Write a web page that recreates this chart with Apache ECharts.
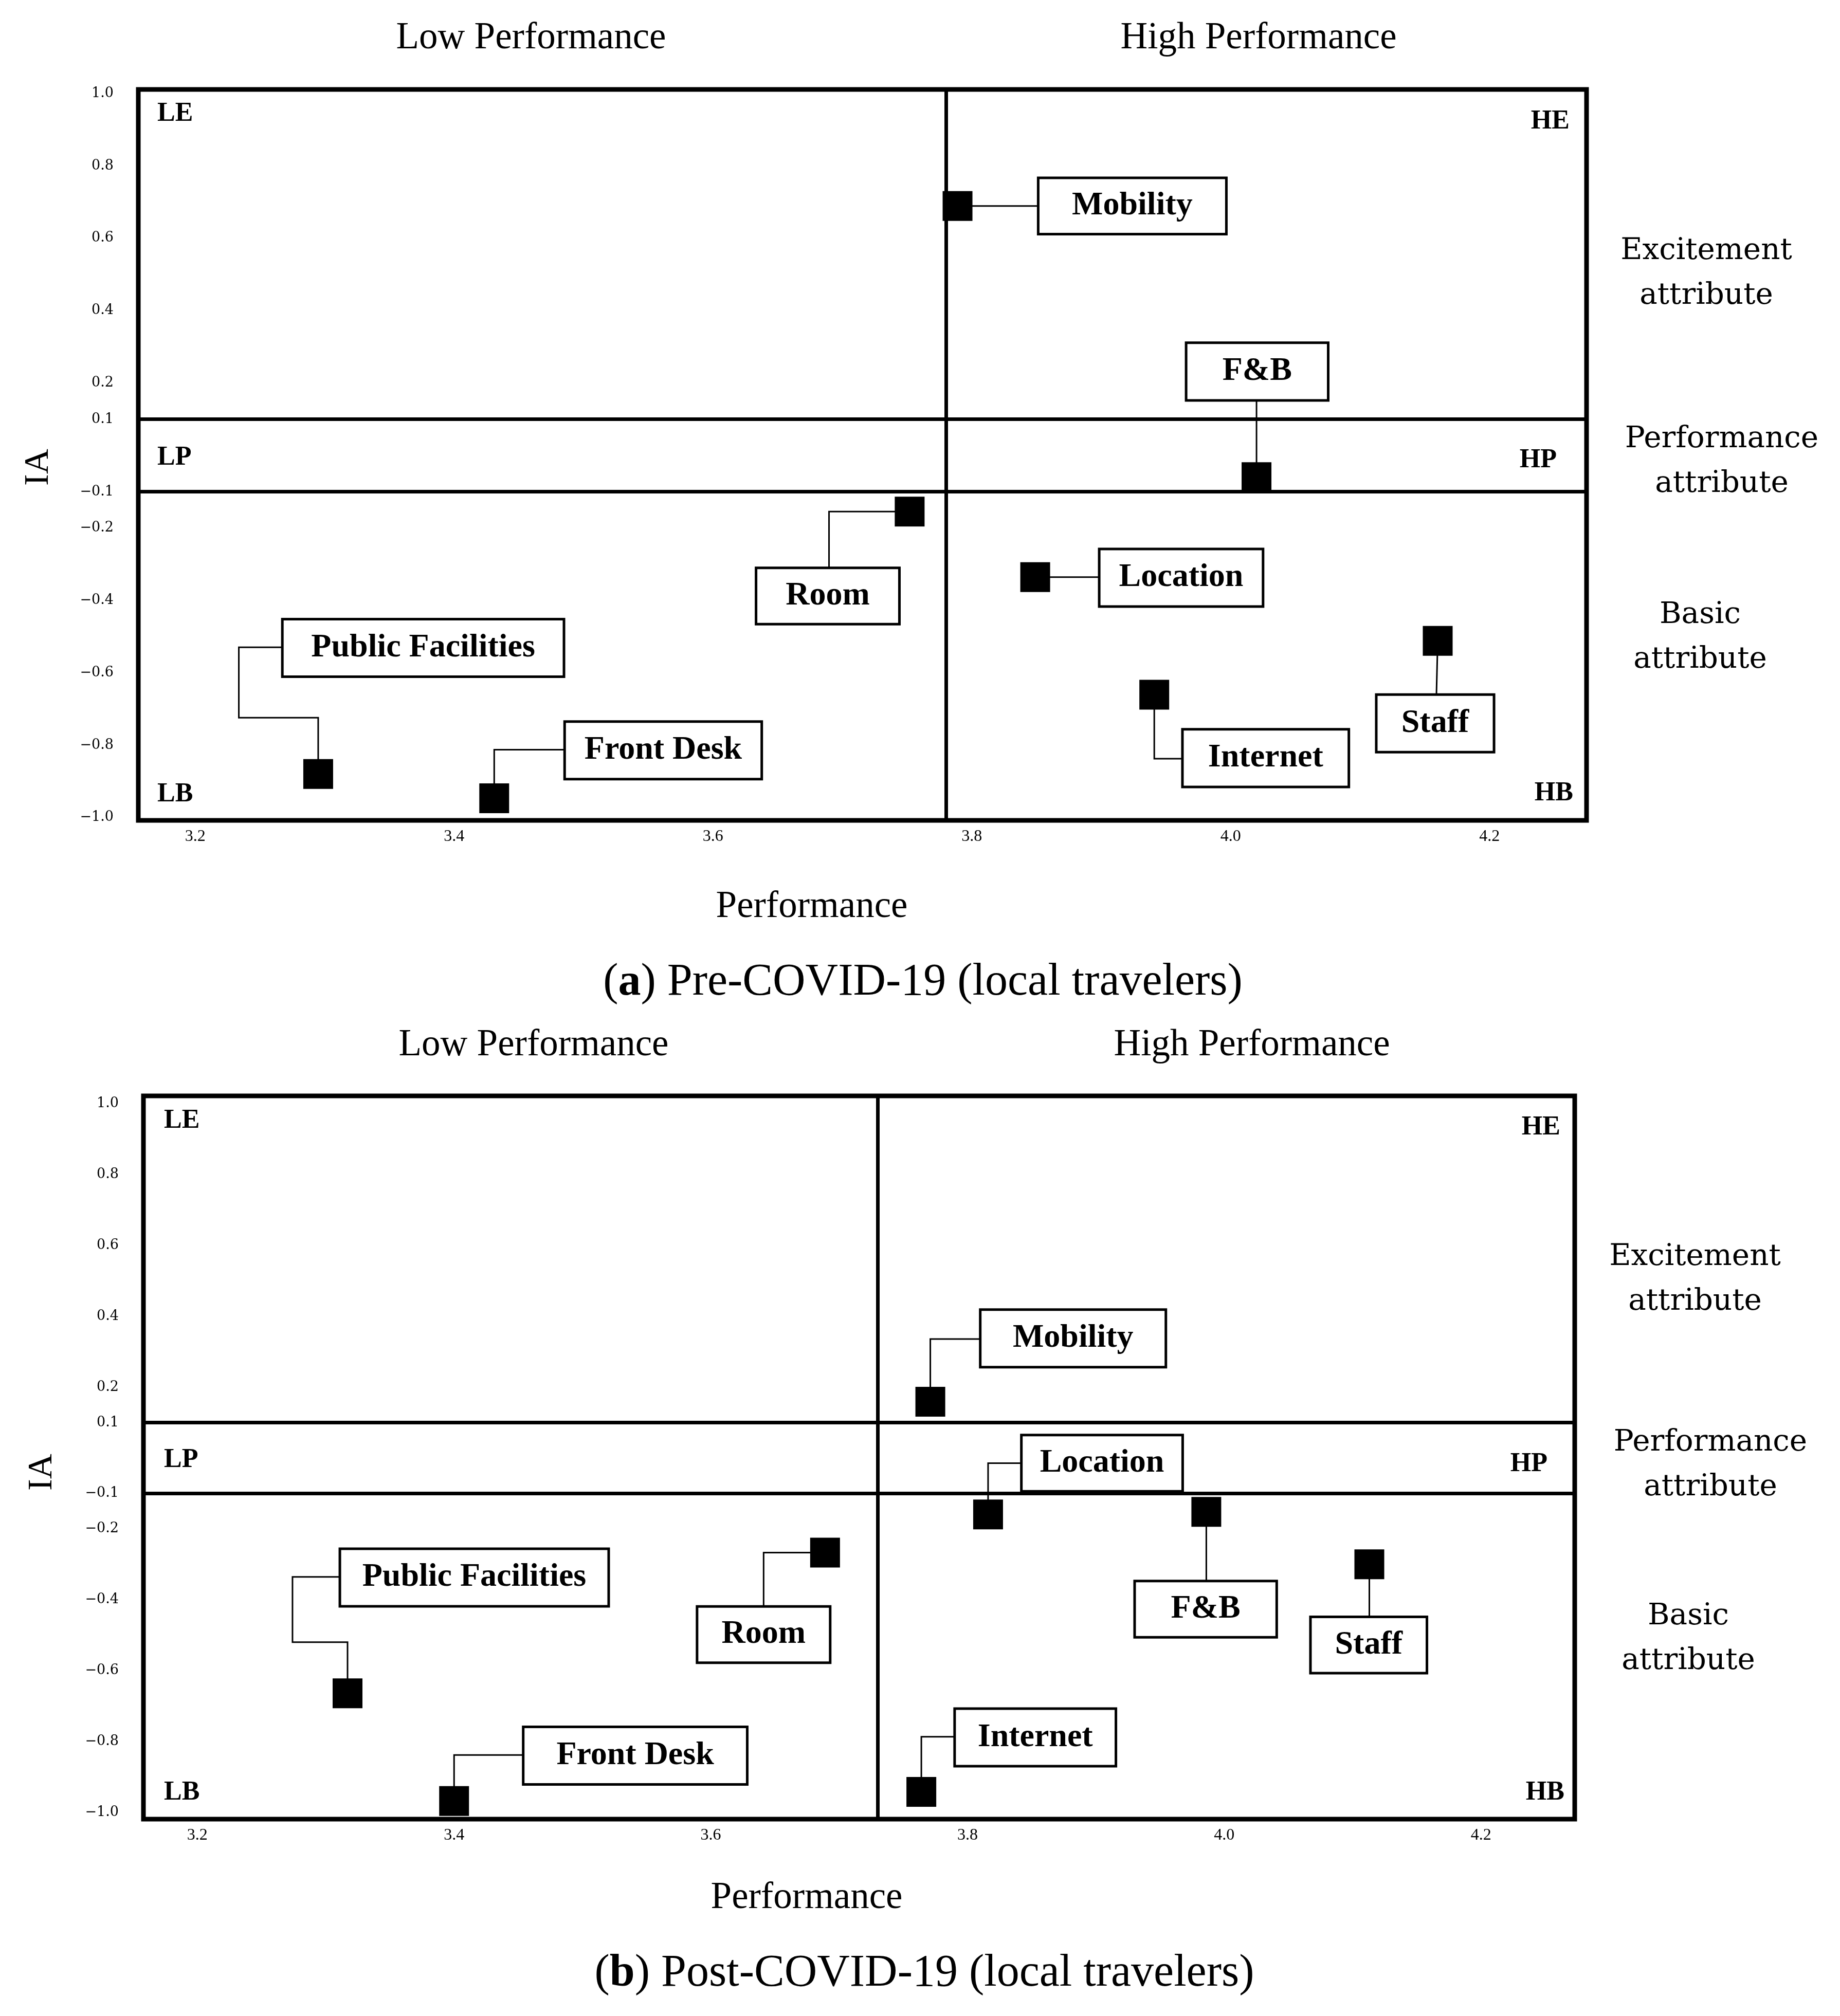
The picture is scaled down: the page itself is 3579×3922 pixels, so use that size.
<!DOCTYPE html>
<html><head><meta charset="utf-8">
<script src="https://cdn.jsdelivr.net/npm/echarts@6/dist/echarts.min.js"></script>
<style>html,body{margin:0;padding:0;background:#fff}#chart{width:3579px;height:3922px}</style>
</head><body><div id="chart"></div>
<script>
// ---- data ----
const attributes = ['Mobility', 'F&B', 'Room', 'Location', 'Public Facilities', 'Front Desk', 'Internet', 'Staff'];
const prePerformance  = [3.789, 4.020, 3.752, 3.849, 3.295, 3.431, 3.941, 4.160];
const preIA           = [0.689, -0.060, -0.155, -0.336, -0.880, -0.947, -0.661, -0.512];
const postPerformance = [3.771, 3.986, 3.689, 3.816, 3.317, 3.400, 3.764, 4.113];
const postIA          = [0.159, -0.152, -0.267, -0.159, -0.664, -0.968, -0.942, -0.300];
const preMeanPerformance = 3.779;
const postMeanPerformance = 3.732;
const iaThresholds = [0.1, -0.1];
const xTicks = [3.2, 3.4, 3.6, 3.8, 4.0, 4.2];
const yTicks = [1.0, 0.8, 0.6, 0.4, 0.2, 0.1, -0.1, -0.2, -0.4, -0.6, -0.8, -1.0];

// ---- label placement (pixel offsets from the point, reference units) ----
const S = 2.49;
const layoutPre = {
  'Mobility':          {box:[136.5, 0, 147, 44],   route:[[0,0],[63,0]]},
  'F&B':               {box:[0.5, -82.5, 111, 45], route:[[0,0],[0,-60]]},
  'Room':              {box:[-64, 66, 112, 44],    route:[[0,0],[-63,0],[-63,44]]},
  'Location':          {box:[114, 0.5, 128, 45],   route:[[0,0],[50,0]]},
  'Public Facilities': {box:[82, -98.5, 220, 45],  route:[[0,0],[0,-44],[-62,-44],[-62,-99],[-28,-99]]},
  'Front Desk':        {box:[132, -37.5, 154, 45], route:[[0,0],[0,-38],[55,-38]]},
  'Internet':          {box:[87, 49.5, 130, 45],   route:[[0,0],[0,50],[22,50]]},
  'Staff':             {box:[-2, 64.5, 92, 45],    route:[[0,0],[-1,42]]}
};
const layoutPost = {
  'Mobility':          {box:[111.5, -49.5, 145, 45], route:[[0,0],[0,-49],[39,-49]]},
  'F&B':               {box:[-0.5, 76, 111, 44],     route:[[0,0],[0,54]]},
  'Room':              {box:[-48, 64, 104, 44],      route:[[0,0],[-48,0],[-48,42]]},
  'Location':          {box:[89, -40, 126, 44],      route:[[0,0],[0,-40],[26,-40]]},
  'Public Facilities': {box:[99, -90.5, 210, 45],    route:[[0,0],[0,-40],[-43,-40],[-43,-91],[-6,-91]]},
  'Front Desk':        {box:[141.5, -35.5, 175, 45], route:[[0,0],[0,-36],[54,-36]]},
  'Internet':          {box:[89, -42.5, 126, 45],    route:[[0,0],[0,-43],[26,-43]]},
  'Staff':             {box:[-0.5, 63, 91, 44],      route:[[0,0],[0,41]]}
};

const SERIF = '"Liberation Serif", "Times New Roman", serif';
const WIDE = '"DejaVu Serif", serif';

function makeRender(layout) {
  return function (params, api) {
    const name = attributes[params.dataIndex];
    const p = api.coord([api.value(0), api.value(1)]);
    const L = layout[name];
    const pts = L.route.map(r => [p[0] + r[0] * S, p[1] + r[1] * S]);
    const bw = L.box[2] * S, bh = L.box[3] * S;
    const bx = p[0] + L.box[0] * S - bw / 2, by = p[1] + L.box[1] * S - bh / 2;
    const sq = 58;
    return {type: 'group', children: [
      {type: 'polyline', shape: {points: pts}, style: {stroke: '#000', lineWidth: 3, fill: 'none'}},
      {type: 'rect', shape: {x: bx, y: by, width: bw, height: bh}, style: {fill: '#fff', stroke: '#000', lineWidth: 5}},
      {type: 'text', x: bx + bw / 2, y: by + bh / 2, style: {text: name, font: 'bold 64px ' + SERIF, fill: '#000', align: 'center', verticalAlign: 'middle'}},
      {type: 'rect', shape: {x: p[0] - sq / 2, y: p[1] - sq / 2, width: sq, height: sq}, style: {fill: '#000'}}
    ]};
  };
}

function xAxisCfg(gi, min, max) {
  return {gridIndex: gi, type: 'value', min: min, max: max,
    axisLine: {show: false}, axisTick: {show: false}, splitLine: {show: false},
    axisLabel: {customValues: xTicks, formatter: v => v.toFixed(1), fontFamily: 'Liberation Serif', fontSize: 32, color: '#000', margin: 16}};
}
function yAxisCfg(gi, min, max) {
  return {gridIndex: gi, type: 'value', min: min, max: max,
    axisLine: {show: false}, axisTick: {show: false}, splitLine: {show: false},
    axisLabel: {customValues: yTicks, formatter: v => (v < 0 ? '\u2212' : '') + Math.abs(v).toFixed(1), fontFamily: 'DejaVu Serif', fontSize: 27, color: '#000', margin: 48}};
}
function dividers(mean) {
  return {silent: true, symbol: ['none', 'none'], label: {show: false},
    lineStyle: {color: '#000', width: 7, type: 'solid'}, emphasis: {disabled: true},
    data: [{xAxis: mean}].concat(iaThresholds.map(v => ({yAxis: v})))};
}

function txt(x, y, text, font, align, extra) {
  return Object.assign({type: 'text', x: x, y: y, silent: true,
    style: {text: text, font: font, fill: '#000', align: align || 'center', verticalAlign: 'middle'}}, extra || {});
}

const headFont = '73px ' + SERIF;
const sideFont = '58px ' + WIDE;
const cornerFont = 'bold 52px ' + SERIF;
const capFont = '88px ' + SERIF;
function sideTxt(x, y, t) {
  const e = txt(x, y, t, sideFont, 'center');
  e.style.lineHeight = 87;
  return e;
}
function caption(x, y, letter, rest) {
  return {type: 'text', x: x, y: y, silent: true, style: {
    text: '({b|' + letter + '}) ' + rest, font: capFont, fill: '#000', align: 'center', verticalAlign: 'middle',
    rich: {b: {fontFamily: 'Liberation Serif', fontWeight: 'bold', fontSize: 88, fill: '#000'}}}};
}

const graphics = [
  // panel a
  txt(1033, 75, 'Low Performance', headFont),
  txt(2448, 75, 'High Performance', headFont),
  sideTxt(3319, 532, 'Excitement\nattribute'),
  sideTxt(3349, 898, 'Performance\nattribute'),
  sideTxt(3307, 1240, 'Basic\nattribute'),
  txt(75, 909, 'IA', '68px ' + SERIF, 'center', {rotation: Math.PI / 2}),
  txt(1579, 1765, 'Performance', headFont),
  caption(1795, 1912, 'a', 'Pre-COVID-19 (local travelers)'),
  txt(306, 222, 'LE', cornerFont, 'left'),
  txt(3053, 237, 'HE', cornerFont, 'right'),
  txt(306, 891, 'LP', cornerFont, 'left'),
  txt(3028, 896, 'HP', cornerFont, 'right'),
  txt(306, 1546, 'LB', cornerFont, 'left'),
  txt(3060, 1544, 'HB', cornerFont, 'right'),
  // panel b
  txt(1038, 2034, 'Low Performance', headFont),
  txt(2435, 2034, 'High Performance', headFont),
  sideTxt(3297, 2489, 'Excitement\nattribute'),
  sideTxt(3327, 2850, 'Performance\nattribute'),
  sideTxt(3284, 3188, 'Basic\nattribute'),
  txt(82, 2864, 'IA', '68px ' + SERIF, 'center', {rotation: Math.PI / 2}),
  txt(1569, 3693, 'Performance', headFont),
  caption(1798, 3840, 'b', 'Post-COVID-19 (local travelers)'),
  txt(319, 2181, 'LE', cornerFont, 'left'),
  txt(3035, 2194, 'HE', cornerFont, 'right'),
  txt(319, 2841, 'LP', cornerFont, 'left'),
  txt(3010, 2849, 'HP', cornerFont, 'right'),
  txt(319, 3488, 'LB', cornerFont, 'left'),
  txt(3043, 3488, 'HB', cornerFont, 'right')
];

const chart = echarts.init(document.getElementById('chart'), null, {renderer: 'canvas'});
chart.setOption({
  animation: false,
  backgroundColor: '#fff',
  grid: [
    {left: 269, top: 174, width: 2817, height: 1422, show: true, borderColor: '#000', borderWidth: 9, backgroundColor: 'transparent', outerBoundsMode: 'none', containLabel: false},
    {left: 279, top: 2132, width: 2784, height: 1407, show: true, borderColor: '#000', borderWidth: 9, backgroundColor: 'transparent', outerBoundsMode: 'none', containLabel: false}
  ],
  xAxis: [xAxisCfg(0, 3.156, 4.275), xAxisCfg(1, 3.158, 4.273)],
  yAxis: [yAxisCfg(0, -1.008, 1.011), yAxisCfg(1, -1.019, 1.022)],
  graphic: graphics,
  series: [
    {type: 'custom', name: 'Pre-COVID-19', xAxisIndex: 0, yAxisIndex: 0, clip: false,
     data: attributes.map((n, i) => [prePerformance[i], preIA[i]]),
     renderItem: makeRender(layoutPre), markLine: dividers(preMeanPerformance), z: 3},
    {type: 'custom', name: 'Post-COVID-19', xAxisIndex: 1, yAxisIndex: 1, clip: false,
     data: attributes.map((n, i) => [postPerformance[i], postIA[i]]),
     renderItem: makeRender(layoutPost), markLine: dividers(postMeanPerformance), z: 3}
  ]
});
</script></body></html>
